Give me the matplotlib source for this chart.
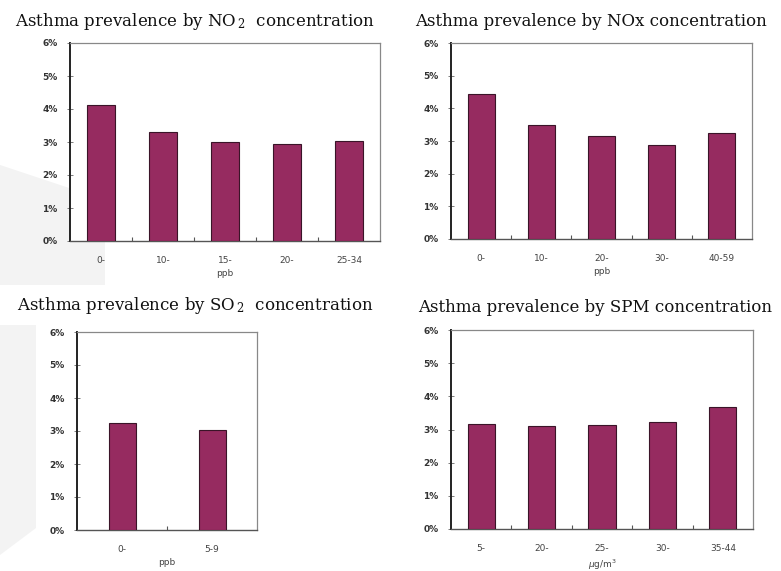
import matplotlib.pyplot as plt
from matplotlib.patches import Polygon
from matplotlib.ticker import FixedLocator

# values (percent)
no2_cats = ['0-', '10-', '15-', '20-', '25-34']
no2_vals = [4.12, 3.30, 2.99, 2.95, 3.03]
nox_cats = ['0-', '10-', '20-', '30-', '40-59']
nox_vals = [4.45, 3.50, 3.14, 2.88, 3.23]
so2_cats = ['0-', '5-9']
so2_vals = [3.25, 3.03]
spm_cats = ['5-', '20-', '25-', '30-', '35-44']
spm_vals = [3.17, 3.10, 3.13, 3.23, 3.67]
yticks = [0, 1, 2, 3, 4, 5, 6]
ytick_labels = ['0%', '1%', '2%', '3%', '4%', '5%', '6%']

W, H = 781, 571
fig = plt.figure(figsize=(W / 100, H / 100), dpi=100)

# faint watermark shapes on the left edge (pixel coords -> figure fractions)
def px(pts):
    return [(x / W, 1 - y / H) for x, y in pts]

fig.patches.append(Polygon(px([(0, 165), (105, 200), (105, 285), (0, 285)]),
                           closed=True, transform=fig.transFigure,
                           facecolor='#f3f3f3', edgecolor='none', zorder=-5))
fig.patches.append(Polygon(px([(0, 325), (36, 325), (36, 528), (0, 555)]),
                           closed=True, transform=fig.transFigure,
                           facecolor='#f3f3f3', edgecolor='none', zorder=-5))

bar_color = '#962b60'
edge_color = '#3a1428'


def panel(rect, cats, vals, bw, xlabel):
    ax = fig.add_axes(rect)
    ax.set_zorder(2)
    x = list(range(len(cats)))
    ax.bar(x, vals, width=bw, color=bar_color, edgecolor=edge_color,
           linewidth=0.8, zorder=3)
    ax.set_xlim(-0.5, len(cats) - 0.5)
    ax.set_ylim(0, 6)
    ax.set_yticks(yticks)
    ax.set_yticklabels(ytick_labels)
    ax.set_xticks(x)
    ax.set_xticklabels(cats)
    ax.xaxis.set_minor_locator(FixedLocator([i + 0.5 for i in range(len(cats) - 1)]))
    ax.tick_params(axis='x', which='major', length=0, pad=11,
                   labelsize=6.5, labelcolor='#444444')
    ax.tick_params(axis='x', which='minor', direction='in', length=3,
                   width=0.8, color='#555555')
    ax.tick_params(axis='y', direction='inout', length=4, width=0.6,
                   color='#666666', pad=7, labelsize=6.5, labelcolor='#333333')
    for lab in ax.get_yticklabels():
        lab.set_fontweight('bold')
    ax.set_xlabel(xlabel, fontsize=6.5, color='#444444', labelpad=3)
    ax.spines['left'].set_linewidth(1.4)
    ax.spines['left'].set_color('#222222')
    ax.spines['bottom'].set_linewidth(1.0)
    ax.spines['bottom'].set_color('#555555')
    for s in ['top', 'right']:
        ax.spines[s].set_linewidth(0.9)
        ax.spines[s].set_color('#888888')
    return ax


panel([70 / W, 1 - 241 / H, 310 / W, 198 / H], no2_cats, no2_vals, 0.45, 'ppb')
panel([451 / W, 1 - 239 / H, 301 / W, 196 / H], nox_cats, nox_vals, 0.45, 'ppb')
panel([77 / W, 1 - 530 / H, 180 / W, 198 / H], so2_cats, so2_vals, 0.30, 'ppb')
panel([451 / W, 1 - 529 / H, 302 / W, 199 / H], spm_cats, spm_vals, 0.45, r'$\mu$g/m$^3$')

plt.rcParams['mathtext.fontset'] = 'dejavuserif'
tkw = dict(family='DejaVu Serif', fontsize=12, ha='center', va='center',
           color='#111111', zorder=5)
bbox = dict(facecolor='white', edgecolor='none', pad=4)
fig.text(195 / W, 1 - 21 / H, r'Asthma prevalence by NO$_{\,2}$  concentration', bbox=bbox, **tkw)
fig.text(591 / W, 1 - 21 / H, 'Asthma prevalence by NOx concentration', bbox=bbox, **tkw)
fig.text(195 / W, 1 - 305 / H, r'Asthma prevalence by SO$_{\,2}$  concentration', bbox=bbox, **tkw)
fig.text(595 / W, 1 - 308 / H, 'Asthma prevalence by SPM concentration', bbox=bbox, **tkw)

plt.savefig('out.png', dpi=100)
